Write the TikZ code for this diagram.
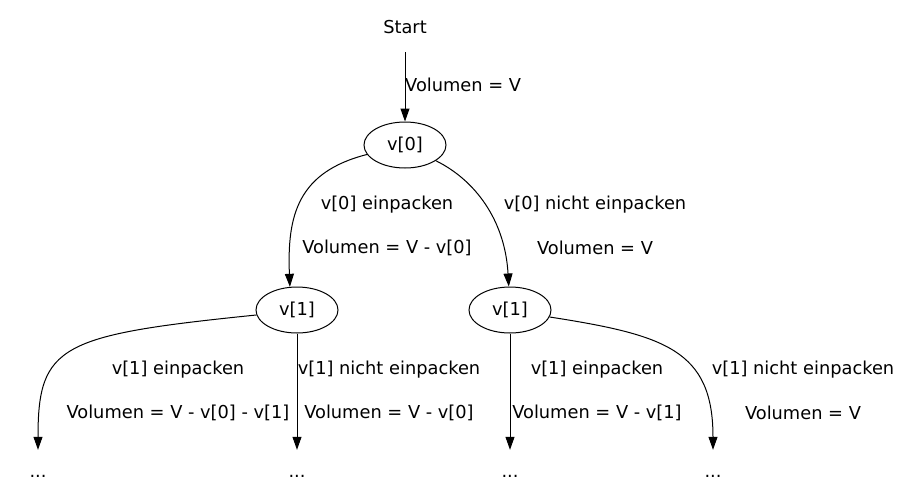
\documentclass[tikz,border=0pt]{standalone}
\usepackage{fontspec}
\setmainfont{DejaVu Sans}
\usetikzlibrary{shapes.geometric,arrows.meta}
\begin{document}
\begin{tikzpicture}[x=1pt,y=-1pt,
  every node/.style={font=\fontsize{17.8}{21}\selectfont, inner sep=0pt},
  vnode/.style={draw, ellipse, line width=1pt, minimum width=82pt, minimum height=46pt},
  dots/.style={anchor=base, text height=27pt, text depth=0pt},
  lbl/.style={anchor=center},
  arr/.style={line width=1pt, -{Triangle[length=13pt,width=9pt]}}
]
\useasboundingbox (0,0) rectangle (900,501);
\fill[white] (0,0) rectangle (900,501);

\node[anchor=base, text depth=18.5pt] (start) at (405,33.5) {Start};
\node[vnode] (v0) at (405,145) {v[0]};
\node[vnode] (v1a) at (297,310) {v[1]};
\node[vnode] (v1b) at (510,310) {v[1]};

\node[dots] (d1) at (38,477) {...};
\node[dots] (d2) at (297,477) {...};
\node[dots] (d3) at (510,477) {...};
\node[dots] (d4) at (713,477) {...};

\node[anchor=west] (l0) at (405,85) {Volumen = V};
\node[lbl] (l1) at (387,205) {v[0] einpacken};
\node[lbl] (l2) at (387,248) {Volumen = V - v[0]};
\node[lbl] (l3) at (595,205) {v[0] nicht einpacken};
\node[lbl] (l4) at (595,248) {Volumen = V};
\node[lbl] (l5) at (178,370) {v[1] einpacken};
\node[lbl] (l6) at (178,413) {Volumen = V - v[0] - v[1]};
\node[lbl] (l7) at (389,370) {v[1] nicht einpacken};
\node[lbl] (l8) at (389,413) {Volumen = V - v[0]};
\node[lbl] (l9) at (597,370) {v[1] einpacken};
\node[lbl] (l10) at (597,413) {Volumen = V - v[1]};
\node[lbl] (l11) at (803,370) {v[1] nicht einpacken};
\node[lbl] (l12) at (803,413) {Volumen = V};

\draw[arr] (start.south) -- (v0.north);
\draw[arr] (v0.194) .. controls (298,172) and (287,215) .. (v1a.107);
\draw[arr] (v0.333) .. controls (475,180) and (505,220) .. (v1b.93);
\draw[arr] (v1a.187) .. controls (60,335) and (38,345) .. (d1.north);
\draw[arr] (v1a.south) -- (d2.north);
\draw[arr] (v1b.south) -- (d3.north);
\draw[arr] (v1b.350) .. controls (665,335) and (713,350) .. (d4.north);
\end{tikzpicture}
\end{document}
